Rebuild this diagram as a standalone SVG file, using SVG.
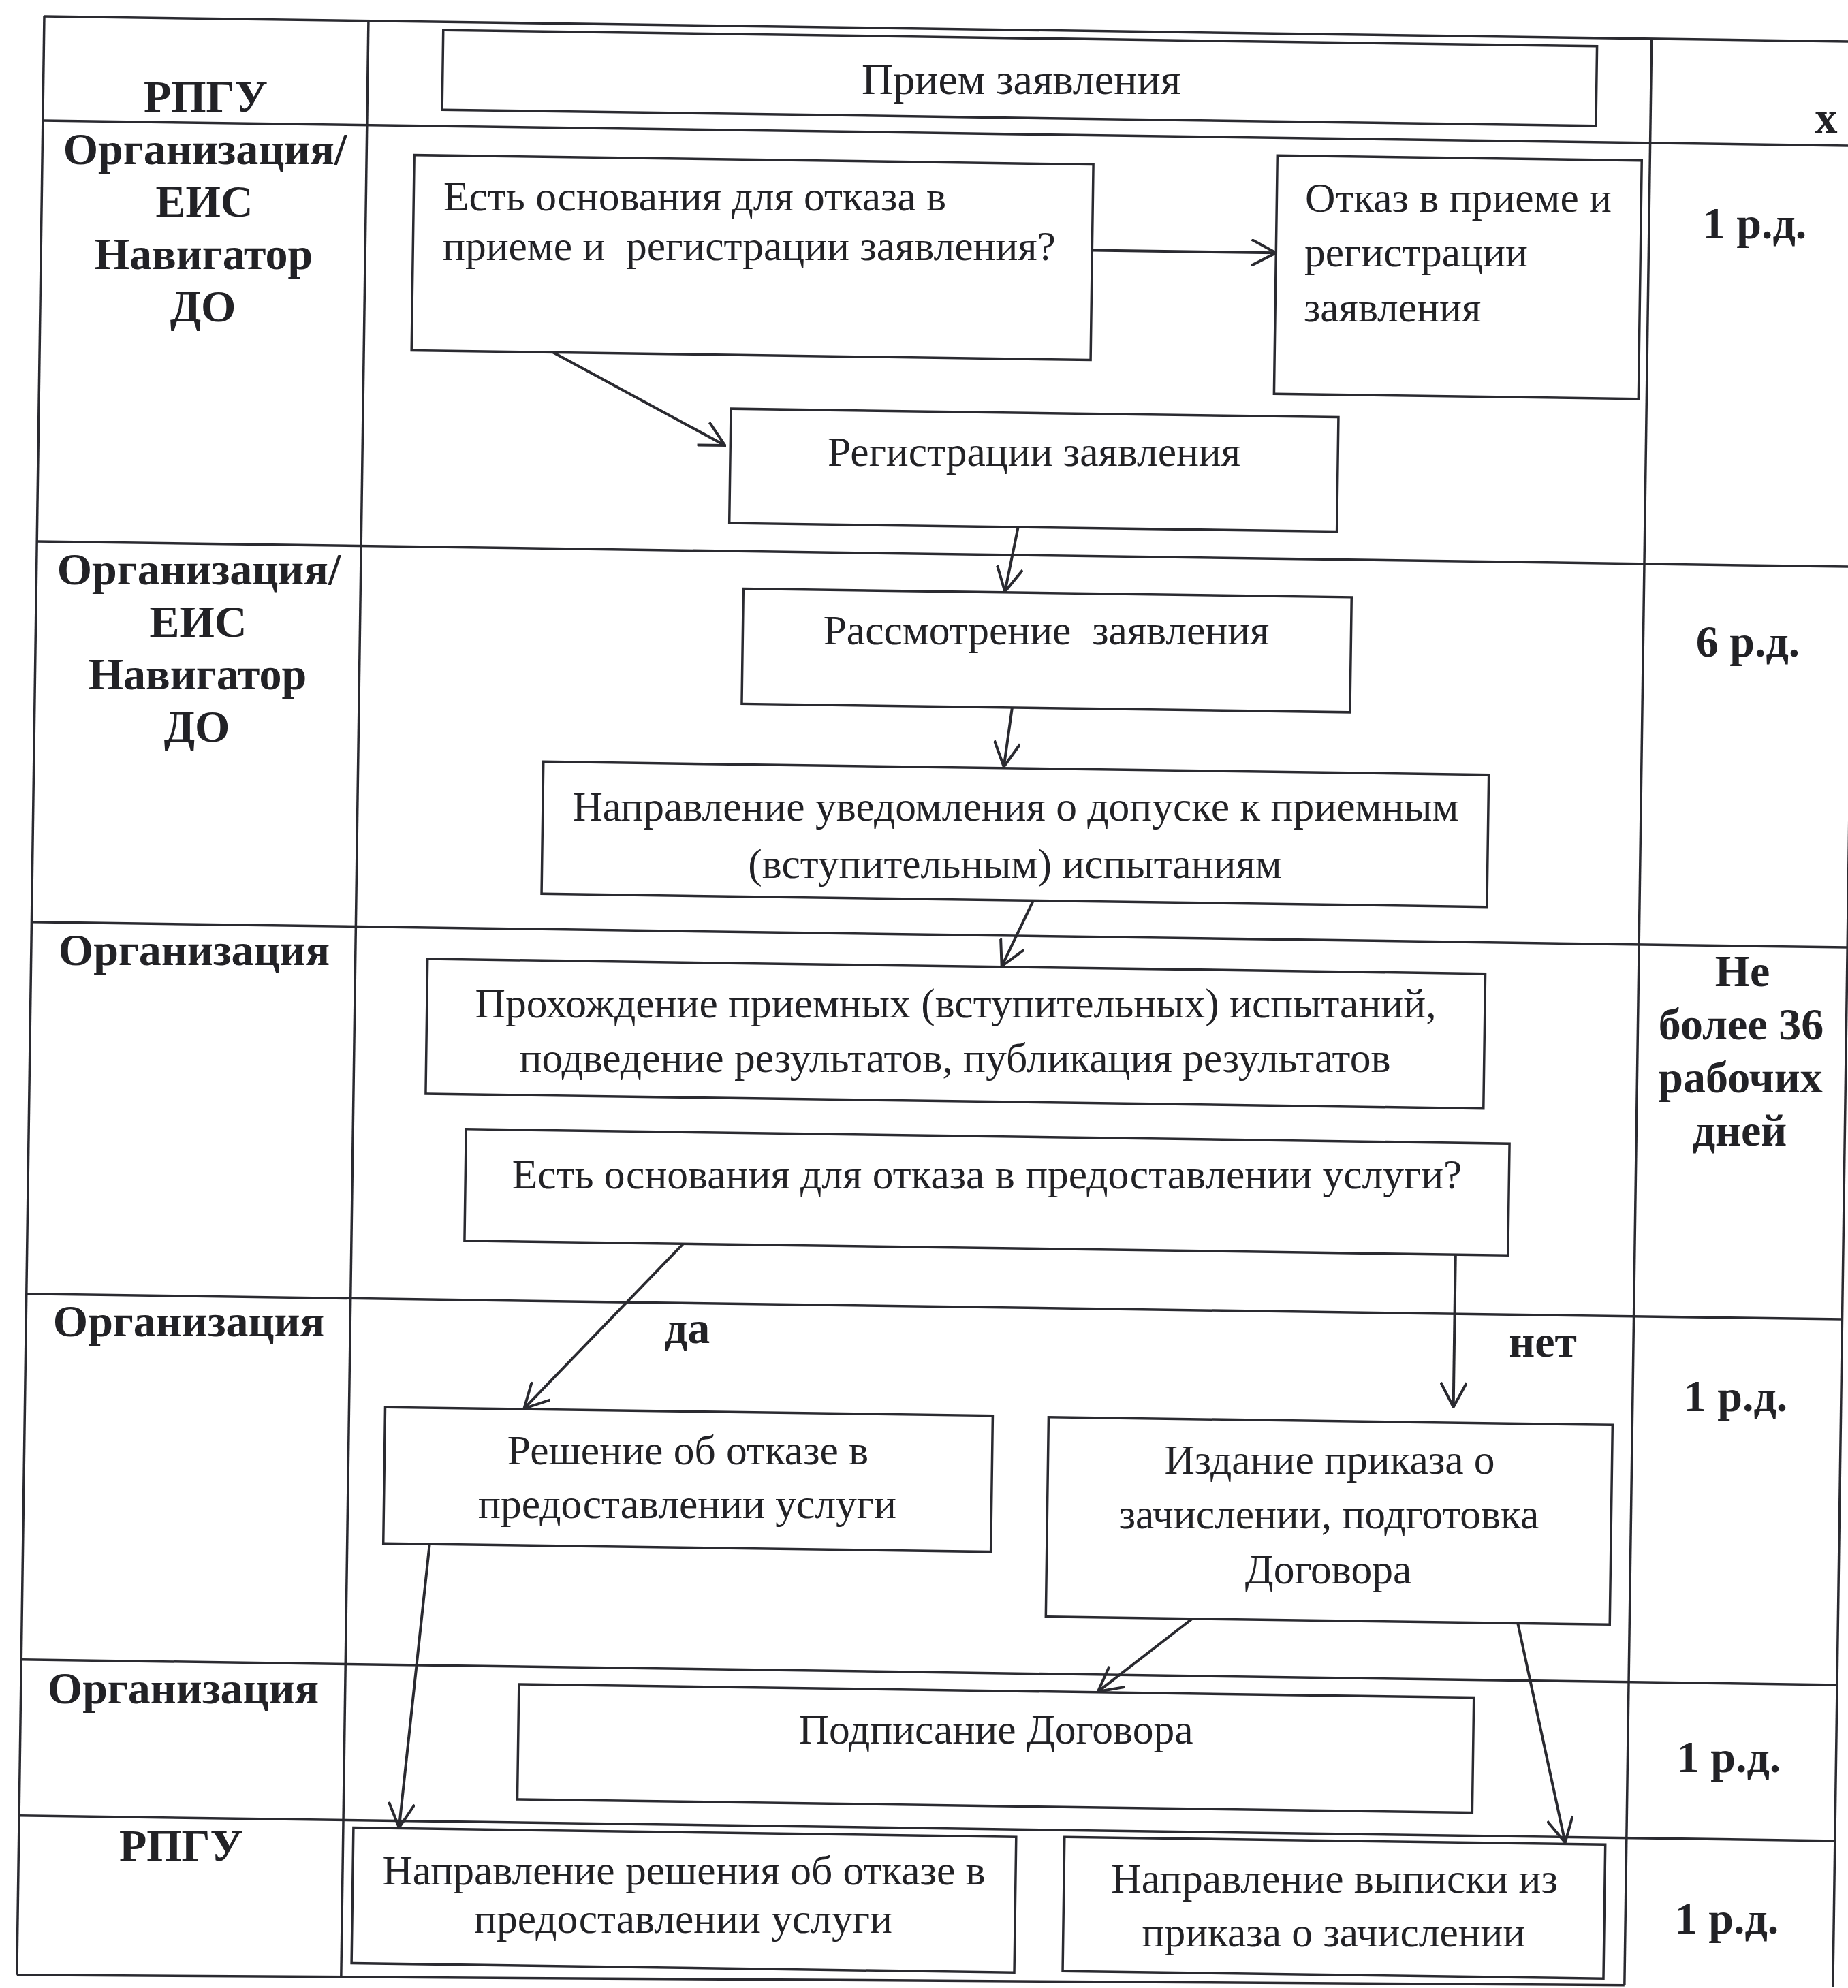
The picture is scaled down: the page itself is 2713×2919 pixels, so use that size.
<svg xmlns="http://www.w3.org/2000/svg" width="2713" height="2919" viewBox="0 0 2713 2919">
<style>
.tl{stroke:#2a2a30;stroke-width:3.5;fill:none}
.box{fill:none;stroke:#2a2a30;stroke-width:3.5}
.t{font-family:"Liberation Serif","Times New Roman",serif;font-size:61.5px;fill:#222226}
.b{font-weight:bold;font-size:66px}
.big{font-size:64px}
.c{text-anchor:middle}
.con{stroke:#2a2a30;stroke-width:4;fill:none;marker-end:url(#ah)}
</style>
<defs>
<marker id="ah" viewBox="0 0 40 40" refX="38" refY="20" markerWidth="40" markerHeight="40" markerUnits="userSpaceOnUse" orient="auto">
<path d="M2,1 L38,20 L2,39" fill="none" stroke="#2a2a30" stroke-width="4"/>
</marker>
</defs>
<rect width="2713" height="2919" fill="#ffffff"/>
<g id="table">
<g transform="rotate(0.8 65 22)">
<line class="tl" x1="65" y1="24" x2="2731" y2="24"/>
<line class="tl" x1="65" y1="177" x2="2731" y2="177"/>
<line class="tl" x1="65" y1="795" x2="2731" y2="795"/>
<line class="tl" x1="65" y1="1354" x2="2731" y2="1354"/>
<line class="tl" x1="65" y1="1900" x2="2731" y2="1900"/>
<line class="tl" x1="65" y1="2437" x2="2731" y2="2437"/>
<line class="tl" x1="65" y1="2666" x2="2731" y2="2666"/>
<line class="tl" x1="65" y1="2900" x2="2425" y2="2882"/>
<line class="tl" x1="65" y1="24" x2="65" y2="2900"/>
<line class="tl" x1="541" y1="24" x2="541" y2="2896"/>
<line class="tl" x1="2425" y1="24" x2="2425" y2="2882"/>
<line class="tl" x1="2731" y1="24" x2="2731" y2="2880"/>
</g>
</g>
<g id="lanes">
<text class="t b c" x="302" y="164">РПГУ</text>
<text class="t b c" x="301" y="241">Организация/</text>
<text class="t b c" x="300" y="318">ЕИС</text>
<text class="t b c" x="299" y="395">Навигатор</text>
<text class="t b c" x="298" y="472">ДО</text>
<text class="t b c" x="292" y="858">Организация/</text>
<text class="t b c" x="291" y="935">ЕИС</text>
<text class="t b c" x="290" y="1012">Навигатор</text>
<text class="t b c" x="289" y="1089">ДО</text>
<text class="t b c" x="285" y="1417">Организация</text>
<text class="t b c" x="277" y="1962">Организация</text>
<text class="t b c" x="269" y="2501">Организация</text>
<text class="t b c" x="266" y="2732">РПГУ</text>
</g>
<g id="terms">
<text class="t b c" x="2681" y="195">х</text>
<text class="t b c" x="2576" y="350">1 р.д.</text>
<text class="t b c" x="2566" y="964">6 р.д.</text>
<text class="t b c" x="2558" y="1448">Не</text>
<text class="t b c" x="2556" y="1526">более 36</text>
<text class="t b c" x="2555" y="1604">рабочих</text>
<text class="t b c" x="2554" y="1682">дней</text>
<text class="t b c" x="2548" y="2072">1 р.д.</text>
<text class="t b c" x="2538" y="2602">1 р.д.</text>
<text class="t b c" x="2535" y="2839">1 р.д.</text>
</g>
<g id="n1"><rect class="box" x="651" y="36" width="1694" height="117" transform="rotate(0.8 65 22)"/>
<text class="t big c" x="1499" y="138">Прием заявления</text></g>
<g id="n2"><rect class="box" x="611" y="220" width="997" height="287" transform="rotate(0.8 65 22)"/>
<text class="t" x="651" y="309">Есть основания для отказа в</text>
<text class="t" x="650" y="382" xml:space="preserve">приеме и  регистрации заявления?</text></g>
<g id="n3"><rect class="box" x="1878" y="203" width="535" height="350" transform="rotate(0.8 65 22)"/>
<text class="t" x="1916" y="311">Отказ в приеме и</text>
<text class="t" x="1915" y="391">регистрации</text>
<text class="t" x="1914" y="472">заявления</text></g>
<g id="n4"><rect class="box" x="1081" y="586" width="892" height="168" transform="rotate(0.8 65 22)"/>
<text class="t c" x="1518" y="684">Регистрации заявления</text></g>
<g id="n5"><rect class="box" x="1103" y="850" width="893" height="169" transform="rotate(0.8 65 22)"/>
<text class="t c" x="1536" y="946" xml:space="preserve">Рассмотрение  заявления</text></g>
<g id="n6"><rect class="box" x="813" y="1108" width="1388" height="194" transform="rotate(0.8 65 22)"/>
<text class="t c" x="1491" y="1205">Направление уведомления о допуске к приемным</text>
<text class="t c" x="1490" y="1289">(вступительным) испытаниям</text></g>
<g id="n7"><rect class="box" x="647" y="1400" width="1553" height="198" transform="rotate(0.8 65 22)"/>
<text class="t c" x="1403" y="1494">Прохождение приемных (вступительных) испытаний,</text>
<text class="t c" x="1402" y="1574">подведение результатов, публикация результатов</text></g>
<g id="n8"><rect class="box" x="707" y="1649" width="1532" height="164" transform="rotate(0.8 65 22)"/>
<text class="t c" x="1449" y="1745">Есть основания для отказа в предоставлении услуги?</text></g>
<g id="n9"><rect class="box" x="594" y="2059" width="892" height="200" transform="rotate(0.8 65 22)"/>
<text class="t c" x="1010" y="2150">Решение об отказе в</text>
<text class="t c" x="1009" y="2229">предоставлении услуги</text></g>
<g id="n10"><rect class="box" x="1568" y="2060" width="828" height="293" transform="rotate(0.8 65 22)"/>
<text class="t c" x="1952" y="2164">Издание приказа о</text>
<text class="t c" x="1951" y="2244">зачислении, подготовка</text>
<text class="t c" x="1950" y="2325">Договора</text></g>
<g id="n11"><rect class="box" x="796" y="2463" width="1402" height="169" transform="rotate(0.8 65 22)"/>
<text class="t c" x="1462" y="2560">Подписание Договора</text></g>
<g id="n12"><rect class="box" x="556" y="2677" width="973" height="199" transform="rotate(0.8 65 22)"/>
<text class="t c" x="1004" y="2767">Направление решения об отказе в</text>
<text class="t c" x="1003" y="2838">предоставлении услуги</text></g>
<g id="n13"><rect class="box" x="1600" y="2676" width="794" height="197" transform="rotate(0.8 65 22)"/>
<text class="t c" x="1959" y="2779">Направление выписки из</text>
<text class="t c" x="1958" y="2858">приказа о зачислении</text></g>
<g id="connectors">
<g transform="rotate(0.8 65 22)">
<line class="con" x1="1608" y1="346" x2="1878" y2="346"/>
<line class="con" x1="819" y1="507" x2="1073" y2="640"/>
<line class="con" x1="1505" y1="754" x2="1487" y2="849"/>
<line class="con" x1="1500" y1="1019" x2="1489" y2="1106"/>
<line class="con" x1="1535" y1="1302" x2="1490" y2="1399"/>
<line class="con" x1="1028" y1="1813" x2="798" y2="2058"/>
<line class="con" x1="2162" y1="1813" x2="2162" y2="2037"/>
<line class="con" x1="1783" y1="2353" x2="1646" y2="2462"/>
<line class="con" x1="662" y1="2259" x2="623" y2="2676"/>
<line class="con" x1="2261" y1="2353" x2="2335" y2="2674"/>
</g>
<text class="t b c" x="1009" y="1972">да</text>
<text class="t b c" x="2265" y="1992">нет</text>
</g>
</svg>
